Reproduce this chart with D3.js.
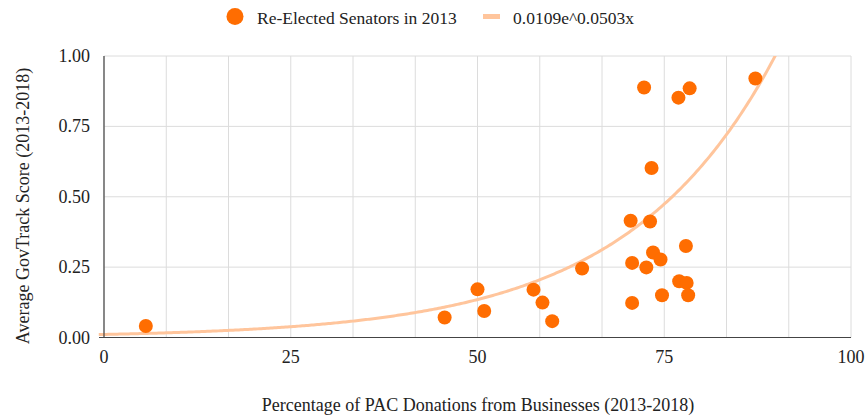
<!DOCTYPE html>
<html>
<head>
<meta charset="utf-8">
<script src="https://cdn.jsdelivr.net/npm/d3@7"></script>
<style>
  html, body { margin: 0; padding: 0; background: #fff; }
  svg { display: block; }
  text { font-family: "Liberation Serif", "DejaVu Serif", serif; fill: #222; }
</style>
</head>
<body>
<svg id="chart" width="867" height="420"></svg>
<script>
// Share of PAC money from businesses (%) for each re-elected senator
const pacBusinessPct = [
  5.6, 45.6, 50.0, 50.9, 57.5, 58.7, 60.0, 64.0,
  70.5, 73.1, 77.9, 73.5, 74.5, 70.7, 72.6, 77.0, 78.0, 74.7, 78.2, 70.7,
  72.3, 76.9, 78.4, 87.2, 73.3
];
// Average GovTrack ideology score for the same senators
const govTrackScore = [
  0.041, 0.071, 0.171, 0.094, 0.170, 0.124, 0.058, 0.245,
  0.415, 0.412, 0.325, 0.302, 0.277, 0.265, 0.249, 0.200, 0.194, 0.150, 0.150, 0.123,
  0.888, 0.852, 0.885, 0.920, 0.602
];
const xTicks = [0, 25, 50, 75, 100];
const yTicks = [0, 0.25, 0.5, 0.75, 1];
// Exponential trendline y = a * e^(b x)
const trendA = 0.0109;
const trendB = 0.0503;
const seriesName = "Re-Elected Senators in 2013";
const trendName = "0.0109e^0.0503x";

const svg = d3.select("#chart");
const plotLeft = 104, plotRight = 851, plotTop = 56, plotBottom = 337.5;

const x = d3.scaleLinear().domain([0, 100]).range([plotLeft, plotRight]);
const y = d3.scaleLinear().domain([0, 1]).range([plotBottom, plotTop]);

const dotColor = "#ff6d01";
const trendColor = "#ffc59c";
const fontSize = 18;

// Gridlines: vertical every 100/12, horizontal every 0.25
const vGrid = d3.range(0, 13).map(i => i * 100 / 12);
svg.append("g").selectAll("line").data(vGrid).join("line")
  .attr("x1", d => x(d)).attr("x2", d => x(d))
  .attr("y1", plotTop).attr("y2", plotBottom)
  .attr("stroke", "#dcdcdc").attr("stroke-width", 1);
svg.append("g").selectAll("line").data(yTicks).join("line")
  .attr("x1", plotLeft).attr("x2", plotRight)
  .attr("y1", d => y(d)).attr("y2", d => y(d))
  .attr("stroke", "#dcdcdc").attr("stroke-width", 1);

// Trendline, clipped to the plot area
svg.append("clipPath").attr("id", "plotClip")
  .append("rect").attr("x", plotLeft - 6).attr("y", plotTop)
  .attr("width", plotRight - plotLeft + 6).attr("height", plotBottom - plotTop + 4);
const trendPts = d3.range(-0.7, 100.01, 0.25).map(v => [v, trendA * Math.exp(trendB * v)]);
svg.append("path")
  .attr("clip-path", "url(#plotClip)")
  .attr("d", d3.line().x(d => x(d[0])).y(d => y(d[1]))(trendPts))
  .attr("fill", "none")
  .attr("stroke", trendColor)
  .attr("stroke-width", 3);

// Axis baselines
svg.append("line").attr("x1", plotLeft).attr("x2", plotLeft).attr("y1", plotTop).attr("y2", plotBottom)
  .attr("stroke", "#444").attr("stroke-width", 1.2);
svg.append("line").attr("x1", plotLeft - 5).attr("x2", plotRight).attr("y1", plotBottom).attr("y2", plotBottom)
  .attr("stroke", "#444").attr("stroke-width", 1.2);

// Points
svg.append("g").selectAll("circle").data(pacBusinessPct.map((v, i) => [v, govTrackScore[i]])).join("circle")
  .attr("cx", d => x(d[0])).attr("cy", d => y(d[1]))
  .attr("r", 7)
  .attr("fill", dotColor);

// Tick labels
svg.append("g").selectAll("text").data(xTicks).join("text")
  .attr("x", d => x(d)).attr("y", 363)
  .attr("text-anchor", "middle")
  .attr("font-size", fontSize)
  .text(d => d);
svg.append("g").selectAll("text").data(yTicks).join("text")
  .attr("x", 90).attr("y", d => y(d) + 6)
  .attr("text-anchor", "end")
  .attr("font-size", fontSize)
  .text(d => d3.format(".2f")(d));

// Axis titles
svg.append("text")
  .attr("x", 478).attr("y", 411)
  .attr("text-anchor", "middle")
  .attr("font-size", fontSize)
  .text("Percentage of PAC Donations from Businesses (2013-2018)");
svg.append("text")
  .attr("transform", "translate(29,206) rotate(-90)")
  .attr("text-anchor", "middle")
  .attr("font-size", fontSize)
  .text("Average GovTrack Score (2013-2018)");

// Legend
const lg = svg.append("g");
lg.append("circle").attr("cx", 235).attr("cy", 16.5).attr("r", 8.5).attr("fill", dotColor);
lg.append("text").attr("x", 257).attr("y", 23.5).attr("font-size", 17.5).text(seriesName);
lg.append("line").attr("x1", 483).attr("x2", 500).attr("y1", 16.5).attr("y2", 16.5)
  .attr("stroke", trendColor).attr("stroke-width", 5);
lg.append("text").attr("x", 513).attr("y", 23.5).attr("font-size", 17.5).text(trendName);
</script>
</body>
</html>
